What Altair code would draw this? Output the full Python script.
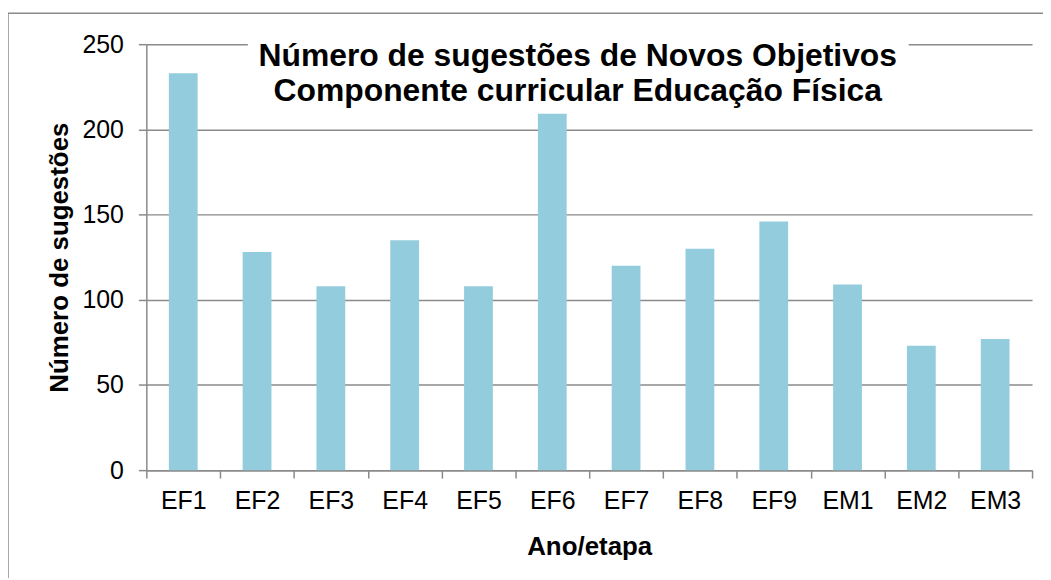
import altair as alt
import pandas as pd

categories = ["EF1", "EF2", "EF3", "EF4", "EF5", "EF6", "EF7", "EF8", "EF9", "EM1", "EM2", "EM3"]
values = [233, 128, 108, 135, 108, 210, 120, 130, 146, 109, 73, 77]
y_ticks = [0, 50, 100, 150, 200, 250]
title_line1 = "Número de sugestões de Novos Objetivos"
title_line2 = "Componente curricular Educação Física"
x_title = "Ano/etapa"
y_title = "Número de sugestões"

df = pd.DataFrame({"cat": categories, "val": values})

FONT = "Liberation Sans"
GRAY = "#8a8a8a"
W, H = 890, 428

bars = alt.Chart(df).mark_bar(color="#93CDDD", width=alt.RelativeBandSize(0.39)).encode(
    x=alt.X(
        "cat:N", sort=categories, title=x_title,
        scale=alt.Scale(paddingInner=0, paddingOuter=0),
        axis=alt.Axis(
            labelAngle=0, tickBand="extent", tickSize=8, labelPadding=11, titlePadding=20,
            domainColor=GRAY, tickColor=GRAY, domainWidth=1.5, tickWidth=1.5,
            labelFontSize=25, titleFontSize=26, labelColor="black", titleColor="black",
            labelFont=FONT, titleFont=FONT, titleFontWeight="bold", grid=False,
        ),
    ),
    y=alt.Y(
        "val:Q", title=y_title,
        scale=alt.Scale(domain=[0, 250], nice=False),
        axis=alt.Axis(
            values=y_ticks, tickSize=8, labelPadding=15, titlePadding=10,
            domainColor=GRAY, tickColor=GRAY, domainWidth=1.5, tickWidth=1.5,
            grid=True, gridColor=GRAY, gridWidth=1.5,
            labelFontSize=25, titleFontSize=26, labelColor="black", titleColor="black",
            labelFont=FONT, titleFont=FONT, titleFontWeight="bold",
        ),
    ),
)

one = pd.DataFrame({"k": [0]})

title_box = alt.Chart(one).mark_rect(color="white").encode(
    x=alt.value(102), x2=alt.value(766), y=alt.value(-13), y2=alt.value(70)
)

t1 = alt.Chart(pd.DataFrame({"t": [title_line1]})).mark_text(
    font=FONT, fontSize=32, fontWeight="bold", align="center", baseline="alphabetic", color="black"
).encode(x=alt.value(433.5), y=alt.value(22), text="t:N")

t2 = alt.Chart(pd.DataFrame({"t": [title_line2]})).mark_text(
    font=FONT, fontSize=32, fontWeight="bold", align="center", baseline="alphabetic", color="black"
).encode(x=alt.value(433.5), y=alt.value(57), text="t:N")

frame = alt.Chart(one).mark_rect(filled=False, stroke=GRAY, strokeWidth=1.5).encode(
    x=alt.value(-139), x2=alt.value(960), y=alt.value(-31), y2=alt.value(600)
)

chart = alt.layer(bars, title_box, t1, t2, frame).properties(
    width=W, height=H,
    autosize=alt.AutoSizeParams(type="none"),
    padding={"left": 139, "top": 35, "right": 11, "bottom": 107},
    background="white",
).configure_view(stroke=None)

chart.save("out.html", embed_options={"renderer": "svg", "actions": False})
